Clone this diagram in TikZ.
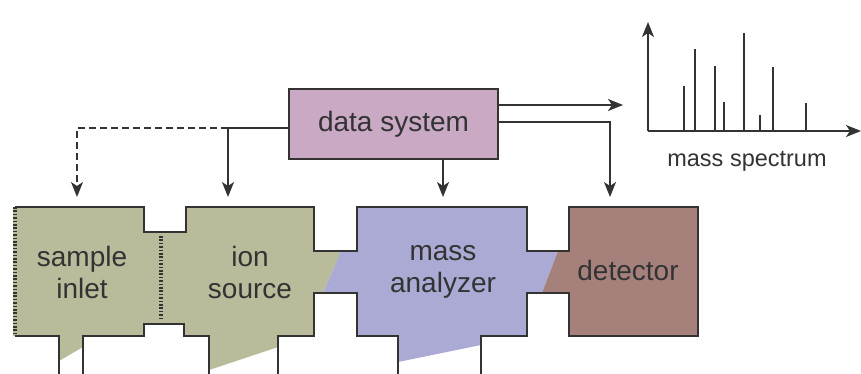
\documentclass[tikz,border=0pt]{standalone}
\usepackage{fontspec}
\setmainfont{Liberation Sans}
\usepackage{tikz}
\usetikzlibrary{arrows.meta}
\usetikzlibrary{positioning}
\usetikzlibrary{calc}
\definecolor{inletcol}{RGB}{185,187,154}
\definecolor{analyzercol}{RGB}{170,170,212}
\definecolor{detectorcol}{RGB}{166,129,124}
\definecolor{datacol}{RGB}{201,169,196}
\definecolor{linecol}{RGB}{51,51,51}
\tikzset{
  wall/.style={draw=linecol,line width=1.7pt,line join=miter},
  arr/.style={draw=linecol,line width=1.7pt,-{Stealth[length=15pt,width=12pt,inset=4pt]}},
  label/.style={text=linecol,align=center,font=\fontsize{28}{32}\selectfont},
  grille/.style={draw=linecol,line width=4.5pt,dash pattern=on 1.6pt off 1.8pt}
}
\begin{document}
\begin{tikzpicture}[x=1pt,y=-1pt]
\useasboundingbox (0,0) rectangle (861,374);
\fill[inletcol] (13,207) -- (144,207) -- (144,232) -- (186,232) -- (186,207) -- (314,207) -- (314,251) -- (341,251) -- (323,293) -- (314,293) -- (314,336) -- (278,336) -- (278,347) -- (209,370) -- (209,336) -- (184,336) -- (184,324) -- (144,324) -- (144,336) -- (83,336) -- (83,347) -- (59,361) -- (59,336) -- (13,336) -- cycle;
\fill[analyzercol] (341,251) -- (357,251) -- (357,207) -- (527,207) -- (527,251) -- (558,251) -- (542,293) -- (527,293) -- (527,336) -- (481,336) -- (481,345) -- (398,362) -- (398,336) -- (357,336) -- (357,293) -- (323,293) -- cycle;
\fill[detectorcol] (558,251) -- (569,251) -- (569,207) -- (698,207) -- (698,336) -- (569,336) -- (569,293) -- (542,293) -- cycle;
\draw[wall] (15,207) -- (144,207) -- (144,232) -- (186,232) -- (186,207) -- (314,207) -- (314,251) -- (357,251) -- (357,207) -- (527,207) -- (527,251) -- (569,251) -- (569,207) -- (698,207) -- (698,336) -- (569,336) -- (569,293) -- (527,293) -- (527,336) -- (481,336) -- (481,374);
\draw[wall] (398,374) -- (398,336) -- (357,336) -- (357,293) -- (314,293) -- (314,336) -- (278,336) -- (278,374);
\draw[wall] (209,374) -- (209,336) -- (184,336) -- (184,324) -- (144,324) -- (144,336) -- (83,336) -- (83,374);
\draw[wall] (59,374) -- (59,336) -- (15,336);
\draw[grille] (15,207) -- (15,336);
\draw[grille] (161,236) -- (161,320);
\node[label] (inlet) at (82,272) {sample\\inlet};
\node[label] (source) at (250,272) {ion\\source};
\node[label] (analyzer) at (443,272) {mass\\analyzer};
\node[label] (detector) at (628,270) {detector};
\node[label,fill=datacol,draw=linecol,line width=1.5pt,minimum width=209pt,minimum height=70pt,inner sep=0pt] (ds) at (393.5,124) {data system};
\coordinate (inlettip) at (77,197);
\coordinate (sourcetip) at (228,197);
\coordinate (analyzertip) at (443,197);
\coordinate (detectortip) at (610,197);
\coordinate (spectrumtip) at (623,105);
\coordinate (split) at (228,128);
\draw[arr] ([yshift=-4pt]ds.west) -- (split) -- (sourcetip);
\draw[arr,dash pattern=on 7pt off 4pt] (split) -| (inlettip);
\draw[arr] (ds.south -| analyzertip) -- (analyzertip);
\draw[arr] ([yshift=2pt]ds.east) -| (detectortip);
\draw[arr] ([yshift=19pt]ds.east) -- (spectrumtip);
\draw[arr] (648,131) -- (648,22);
\draw[arr] (648,131) -- (861,131);
\draw[wall] (684,131) -- (684,86);
\draw[wall] (695,131) -- (695,49);
\draw[wall] (715,131) -- (715,66);
\draw[wall] (724,131) -- (724,102);
\draw[wall] (744,131) -- (744,33);
\draw[wall] (760,131) -- (760,115);
\draw[wall] (773,131) -- (773,67);
\draw[wall] (806,131) -- (806,103);
\node[label,font=\fontsize{23.5}{28}\selectfont] (spectrum) at (747,161) {mass spectrum};
\end{tikzpicture}
\end{document}
